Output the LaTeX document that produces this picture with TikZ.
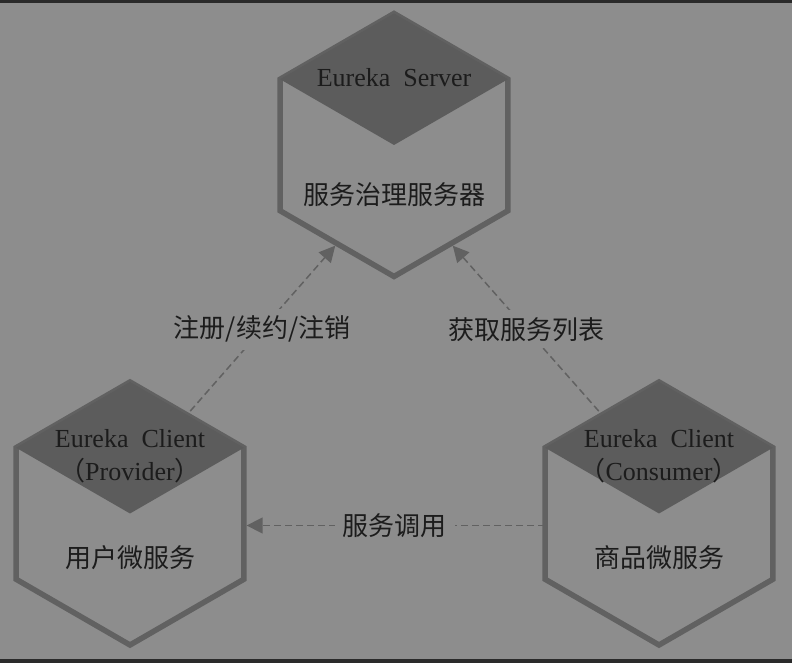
\documentclass[tikz,border=0pt]{standalone}
\usepackage{fontspec}
\setmainfont{Liberation Serif}
\newfontfamily\cjk{Noto Sans CJK SC}
\usetikzlibrary{arrows.meta}
\usetikzlibrary{shapes.geometric}
\usetikzlibrary{positioning}

\definecolor{bggray}{HTML}{8D8D8D}
\definecolor{facegray}{HTML}{5C5C5C}
\definecolor{edgegray}{HTML}{616161}
\definecolor{stripgray}{HTML}{2A2A2A}
\definecolor{inkgray}{HTML}{1C1C1C}

\begin{document}
\begin{tikzpicture}[
    x=1pt, y=1pt,
    hexa/.style={regular polygon, regular polygon sides=6, shape border rotate=30,
        minimum size=263pt, inner sep=0pt, outer sep=0pt, draw=edgegray, line width=5.5pt},
    face/.style={fill=facegray},
    txt/.style={text=inkgray, font=\fontsize{26}{30}\selectfont, inner sep=0pt},
    tag/.style={txt, fill=bggray, inner xsep=8pt, inner ysep=7pt},
    call/.style={draw=edgegray, line width=1.5pt, dash pattern=on 7pt off 4pt,
        -{Triangle[length=16pt, width=16pt]}, shorten >=2.75pt},
]

% --- Background and frame strips ---
\fill[bggray] (0,0) rectangle (792,663);
\fill[stripgray] (0,0) rectangle (792,4);
\fill[stripgray] (0,660) rectangle (792,663);
\useasboundingbox (0,0) rectangle (792,663);

% --- Hexagons ---
\node[hexa] (srv) at (394,518) {};
\node[hexa] (prov) at (130,149.5) {};
\node[hexa] (cons) at (659,149.5) {};

% --- Dark top faces ---
\foreach \h in {srv,prov,cons}
    \fill[face] (\h.90) -- (\h.150) -- (\h.center) -- (\h.30) -- cycle;

% --- Server texts ---
\node[txt] (srvname) at ([yshift=67pt]srv.center) {Eureka~~Server};
\node[txt] (srvrole) at ([yshift=-50pt]srv.center) {\cjk 服务治理服务器};

% --- Provider texts ---
\node[txt] (provname) at ([yshift=75pt]prov.center) {Eureka~~Client};
\node[txt] (provkind) at ([yshift=43pt]prov.center) {{\cjk （}Provider{\cjk ）}};
\node[txt] (provrole) at ([yshift=-44pt]prov.center) {\cjk 用户微服务};

% --- Consumer texts ---
\node[txt] (consname) at ([yshift=75pt]cons.center) {Eureka~~Client};
\node[txt] (conskind) at ([yshift=43pt]cons.center) {{\cjk （}Consumer{\cjk ）}};
\node[txt] (consrole) at ([yshift=-44pt]cons.center) {\cjk 商品微服务};

% --- Connectors ---
\draw[call, shorten <=5pt] (prov.60) -- node[tag] (regtag) {\cjk 注册/续约/注销} (srv.-120);
\draw[call, shorten <=5pt] (cons.120) -- node[tag] (listtag) {\cjk 获取服务列表} (srv.-60);
\draw[call] ([yshift=-12pt]cons.west) -- node[tag] (calltag) {\cjk 服务调用} ([yshift=-12pt]prov.east);

\end{tikzpicture}
\end{document}
